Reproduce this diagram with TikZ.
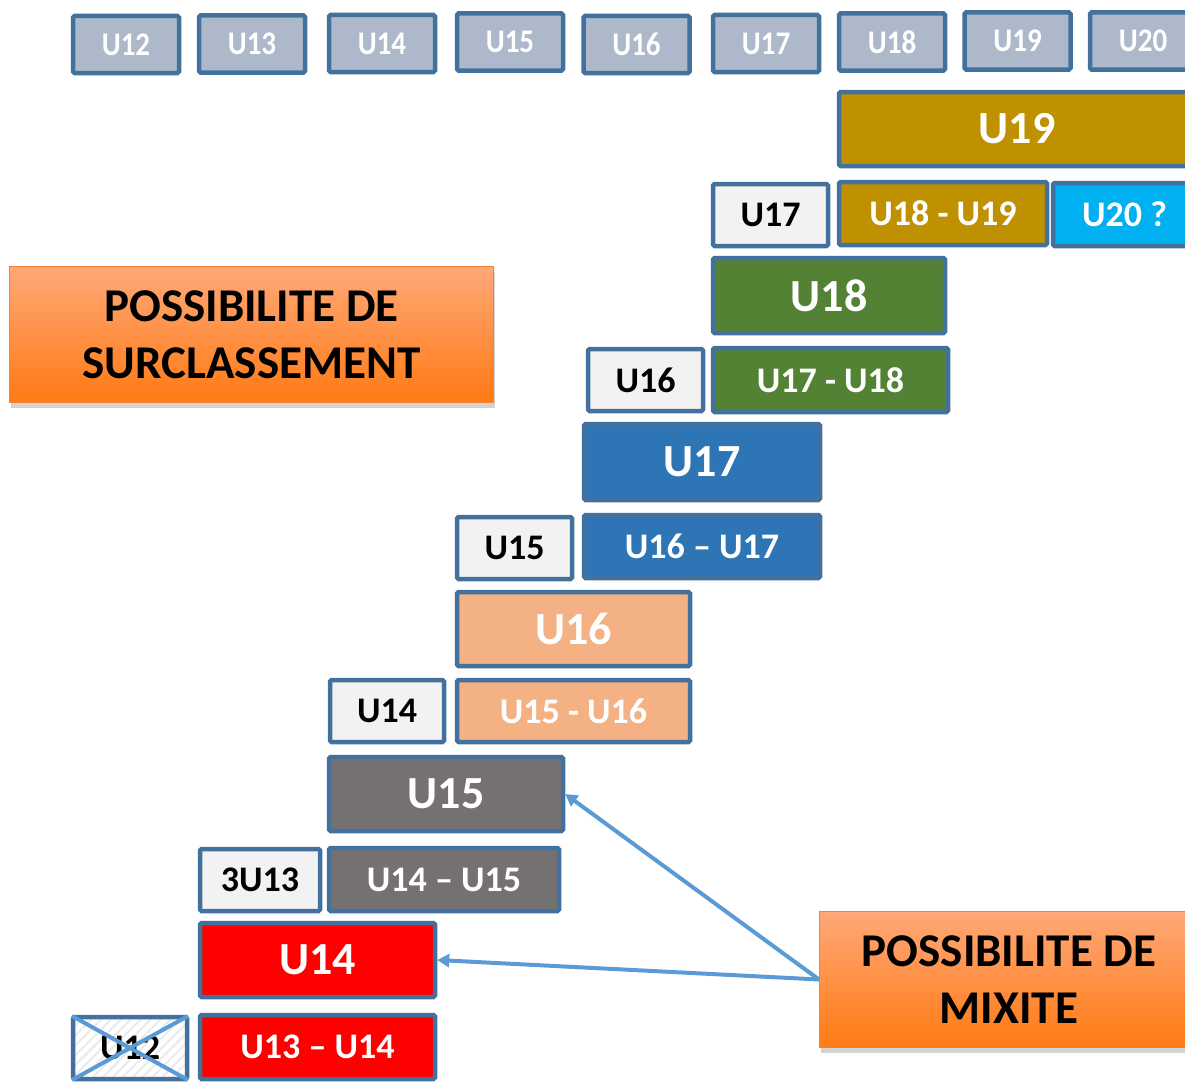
\documentclass[tikz,border=0pt]{standalone}
\usepackage{fontspec}
\setmainfont{Carlito}
\newfontfamily\narrowfont{Carlito}[FakeStretch=0.88]
\usepackage{xcolor}
\usepackage{tikz}
\usetikzlibrary{arrows.meta, shadows, patterns.meta, positioning}
\definecolor{frameblue}{RGB}{65,113,156}
\definecolor{headgrey}{RGB}{173,185,202}
\definecolor{paleback}{RGB}{242,242,242}
\definecolor{goldu}{RGB}{191,144,0}
\definecolor{cyanu}{RGB}{0,176,240}
\definecolor{greenu}{RGB}{84,130,53}
\definecolor{blueu}{RGB}{46,117,182}
\definecolor{peachu}{RGB}{244,177,131}
\definecolor{greyu}{RGB}{118,113,113}
\definecolor{redu}{RGB}{255,0,0}
\definecolor{arrowblue}{RGB}{91,155,213}
\definecolor{orangetop}{RGB}{255,168,120}
\definecolor{orangebot}{RGB}{255,122,20}
\definecolor{orangeline}{RGB}{244,130,50}

\begin{document}
\begin{tikzpicture}[x=1pt, y=-1pt,
    agebox/.style={rectangle, rounded corners=1.5pt, draw=frameblue, line width=4.5pt, inner sep=0pt, text=white, font=\bfseries\fontsize{36}{40}\selectfont},
    bigbox/.style={agebox, minimum height=74pt, font=\bfseries\fontsize{46}{50}\selectfont},
    pairbox/.style={agebox, minimum height=63pt},
    underbox/.style={agebox, fill=paleback, text=black, minimum width=115pt, minimum height=62pt},
    headbox/.style={agebox, fill=headgrey, minimum width=106pt, minimum height=57pt, font=\narrowfont\bfseries\fontsize{33}{36}\selectfont},
    notebox/.style={rectangle, top color=orangetop, bottom color=orangebot, draw=orangeline, line width=1pt, align=center, text=black, font=\bfseries\fontsize{47}{57}\selectfont, drop shadow={shadow xshift=1pt, shadow yshift=-5pt, opacity=0.35}},
    mixarrow/.style={-{Triangle[length=12pt, width=13pt]}, line width=4pt, draw=arrowblue}]
    \useasboundingbox (0,0) rectangle (1185,1081);
    \clip (0,0) rectangle (1185,1081);

    % Age header row
    \foreach \lab/\cx/\cy in {U12/126/44.5, U13/252/44, U14/382/43.5, U15/510/42, U16/636.5/44.5, U17/766/43.5, U18/892/42, U19/1017.5/41, U20/1143/41}
        \node[headbox] (head\lab) at (\cx,\cy) {\lab};

    % Staircase of categories
    \node[bigbox, fill=goldu, minimum width=356pt] (big19) at (1017,129) {U19};
    \node[underbox] (low17) at (770.5,215) {U17};
    \node[pairbox, fill=goldu, minimum width=208pt] (pair1819) at (943,213.5) {U18 - U19};
    \node[pairbox, fill=cyanu, minimum width=143pt] (pair20) at (1124.5,214.5) {U20 ?};
    \node[bigbox, fill=greenu, minimum width=232pt, minimum height=75pt] (big18) at (829,295.5) {U18};
    \node[underbox] (low16) at (645.5,380) {U16};
    \node[pairbox, fill=greenu, minimum width=235pt, minimum height=64pt] (pair1718) at (830.5,380) {U17 - U18};
    \node[bigbox, fill=blueu, minimum width=236pt, minimum height=76pt] (big17) at (702,462) {U17};
    \node[underbox] (low15) at (514.5,548) {U15};
    \node[pairbox, fill=blueu, minimum width=236pt] (pair1617) at (702,546.5) {U16 -- U17};
    \node[bigbox, fill=peachu, minimum width=233pt] (big16) at (573.5,629) {U16};
    \node[underbox, minimum width=114pt] (low14) at (387,711) {U14};
    \node[pairbox, fill=peachu, minimum width=233pt, minimum height=62pt] (pair1516) at (573.5,711) {U15 - U16};
    \node[bigbox, fill=greyu, minimum width=234pt] (big15) at (446,794) {U15};
    \node[underbox, minimum width=120pt] (low13) at (260,880) {3U13};
    \node[pairbox, fill=greyu, minimum width=230pt] (pair1415) at (444,879.5) {U14 -- U15};
    \node[bigbox, fill=redu, minimum width=235pt] (big14) at (317.5,960) {U14};
    \node[underbox, minimum width=114pt, preaction={fill=white}, pattern={Lines[angle=45, distance=7pt, line width=2pt]}, pattern color=black!8] (low12) at (130,1048) {U12};
    \node[pairbox, fill=redu, minimum width=235pt, minimum height=64pt] (pair1314) at (317.5,1047) {U13 -- U14};

    % Crossed out U12
    \draw[arrowblue, line width=4pt] (low12.north west) -- (low12.south east);
    \draw[arrowblue, line width=4pt] (low12.south west) -- (low12.north east);

    % Notes
    \node[notebox, minimum width=484pt, minimum height=136pt] (surclass) at (251.5,334.5) {POSSIBILITE DE\\SURCLASSEMENT};
    \node[notebox, minimum width=379pt, minimum height=136pt] (mixite) at (1009,979.5) {POSSIBILITE DE\\MIXITE};

    \draw[mixarrow] (mixite.west) -- (big15.east);
    \draw[mixarrow] (mixite.west) -- (big14.east);
\end{tikzpicture}
\end{document}
